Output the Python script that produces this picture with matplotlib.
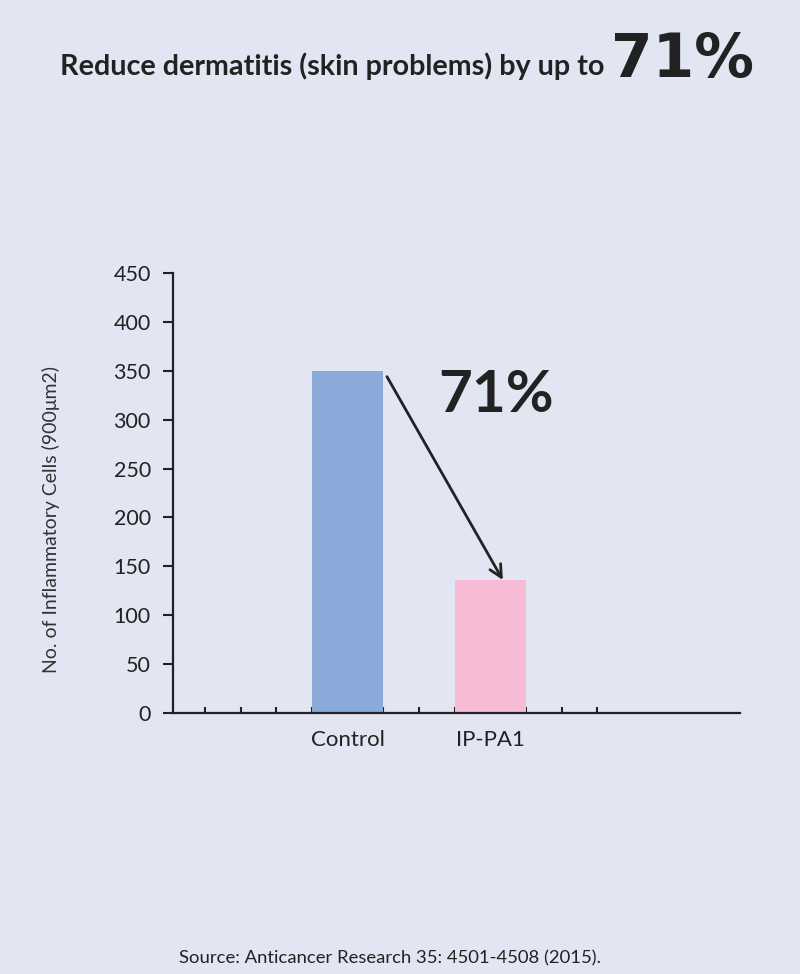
import matplotlib
matplotlib.use("Agg")
import matplotlib.pyplot as plt

# data
categories = ["Control", "IP-PA1"]
values = [350, 136]
bar_colors = ["#8aaad9", "#f8bbd6"]
yticks = [0, 50, 100, 150, 200, 250, 300, 350, 400, 450]
reduction_label = "71%"

BG = "#e2e5f2"
INK = "#222222"

plt.rcParams['font.family'] = ['Lato', 'DejaVu Sans']

fig = plt.figure(figsize=(8.0, 9.74), dpi=100)
fig.patch.set_facecolor(BG)
ax = fig.add_axes([173 / 800, 1 - 713 / 974, (740 - 173) / 800, (713 - 273) / 974])
ax.set_facecolor(BG)

# x positions in "minor tick" units; bars span two units each
bar_pos = [4, 8]
ax.bar(bar_pos, values, width=2, color=bar_colors, zorder=2)

ax.set_xlim(-0.9, 15)
ax.set_ylim(0, 450)
ax.set_axisbelow(True)

ax.set_xticks(range(0, 12), minor=True)
ax.set_xticks(bar_pos)
ax.set_xticklabels(categories, fontsize=16, color=INK)
ax.tick_params(axis='x', which='major', length=0, pad=12)
ax.tick_params(axis='x', which='minor', direction='in', length=4, width=1.5, color=INK)

ax.set_yticks(yticks)
ax.set_yticklabels([str(t) for t in yticks], fontsize=15.5, color=INK)
ax.tick_params(axis='y', direction='out', length=7, width=1.5, color=INK, pad=9)

for side in ['top', 'right']:
    ax.spines[side].set_visible(False)
for side in ['left', 'bottom']:
    ax.spines[side].set_linewidth(1.6)
    ax.spines[side].set_color(INK)

ax.set_ylabel("No. of Inflammatory Cells (900μm2)", fontsize=14, color="#333333")
ax.yaxis.set_label_coords(-0.199, 0.44)

# arrow from control bar top to IP-PA1 bar top
ax.annotate("", xy=(8.35, values[1]), xytext=(5.1, 344),
            arrowprops=dict(arrowstyle='->', lw=2, color=INK,
                            mutation_scale=22, shrinkA=0, shrinkB=0))
ax.text(6.55, 308, reduction_label, fontsize=42, fontweight='bold', color=INK,
        ha='left', va='baseline')

# title with bigger percentage; shrink the first part to fit its width
title = fig.text(605 / 800, 1 - 75 / 974, "Reduce dermatitis (skin problems) by up to",
                 fontsize=27, fontweight='bold', color=INK, ha='right', va='baseline')
renderer = fig.canvas.get_renderer()
w = title.get_window_extent(renderer).width
title.set_fontsize(27 * 545 / w)
fig.text(611 / 800, 1 - 77 / 974, reduction_label,
         fontsize=43, fontweight='bold', color=INK, ha='left', va='baseline',
         family=['DejaVu Sans'])

fig.text(390 / 800, 1 - 963 / 974, "Source: Anticancer Research 35: 4501-4508 (2015).",
         fontsize=13.3, color=INK, ha='center', va='baseline')

fig.savefig("out.png", dpi=100, facecolor=BG)
